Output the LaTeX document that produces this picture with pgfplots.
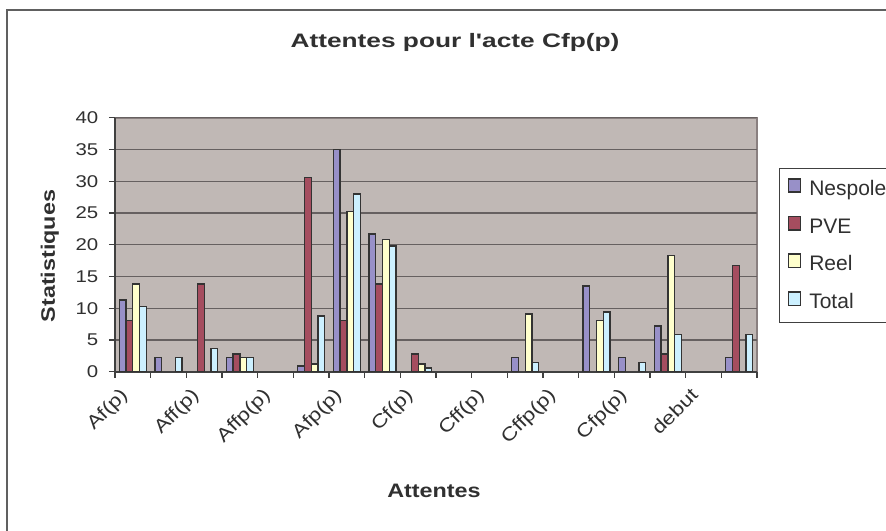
\documentclass[border=0pt]{standalone}
\usepackage{fontspec}
\setmainfont{Liberation Sans}
\newfontfamily\tickfont[FakeStretch=1.2]{Liberation Sans}
\newfontfamily\labfont[FakeStretch=1.2]{Liberation Sans}
\newfontfamily\titfont[FakeStretch=1.35]{Liberation Sans}
\usepackage{pgfplots}
\pgfplotsset{compat=1.18}
\definecolor{plotbg}{HTML}{C0B8B5}
\definecolor{borderc}{HTML}{8A8080}
\definecolor{gridc}{HTML}{666060}
\definecolor{axc}{HTML}{404040}
\definecolor{textc}{HTML}{303030}
\definecolor{cNes}{HTML}{9890C8}
\definecolor{cPVE}{HTML}{A54D5F}
\definecolor{cReel}{HTML}{FFFFCC}
\definecolor{cTot}{HTML}{CCF0FF}
\definecolor{barline}{HTML}{333333}
\begin{document}
\begin{tikzpicture}
\useasboundingbox (0,0) rectangle (664.5pt,-398.25pt);
\clip (0,0) rectangle (664.5pt,-398.25pt);
\fill[white] (0,0) rectangle (664.5pt,-398.25pt);
% chart area border (extends beyond the crop)
\draw[color=gray!75!black, line width=1.5pt] (5.25pt,-7.5pt) rectangle (700pt,-420pt);
\begin{axis}[
  scale only axis,
  width=481.5pt, height=190.5pt,
  at={(86.25pt,-278.8pt)}, anchor=south west,
  axis background/.style={fill=plotbg, draw=borderc, line width=1.5pt},
  axis lines*=left,
  x axis line style={-, draw=axc, line width=1.2pt},
  y axis line style={-, draw=axc, line width=1.2pt},
  xmin=0.5, xmax=18.5, ymin=0, ymax=40,
  ytick={0,5,...,40},
  xtick={0.5,1.5,...,18.5},
  xticklabels={},
  extra x ticks={1,3,5,7,9,11,13,15,17},
  extra x tick labels={Af(p),Aff(p),Affp(p),Afp(p),Cf(p),Cff(p),Cffp(p),Cfp(p),debut},
  extra x tick style={major tick length=0pt, grid=none,
    xticklabel style={xshift=-10.5pt, yshift=-6.25pt, rotate=45, anchor=north east,
      font=\tickfont\fontsize{14}{16}\selectfont}},
  tick align=outside,
  major tick length=4.5pt,
  tick style={draw=axc, line width=1pt},
  ymajorgrids,
  major grid style={draw=gridc, line width=1pt},
  /pgf/number format/assume math mode=true,
  tick label style={font=\tickfont\fontsize{12.75}{15}\selectfont, text=textc},
  yticklabel style={anchor=east, xshift=-4.5pt},
  ybar=0pt, bar width=5.06pt,
  legend style={at={(1.0343,0.802)}, anchor=north west,
    draw=axc, line width=1pt, fill=white,
    font=\fontsize{15.75}{18}\selectfont, text=textc,
    inner xsep=6pt, inner ysep=7pt,
    row sep=11.8pt,
    nodes={inner sep=0pt, text height=11.5pt, text depth=3.5pt}},
  legend cell align=left,
  legend image code/.code={\draw[#1, line width=1.2pt] (0pt,-1.6pt) rectangle (9pt,8.4pt);},
]
\addplot[fill=cNes, draw=barline, line width=1pt] coordinates {
 (1,11.3) (2,2.2) (4,2.2) (6,0.9) (7,35) (8,21.7) (12,2.2) (14,13.5) (15,2.2) (16,7.2) (18,2.2)};
\addlegendentry{\hspace*{6pt}\makebox[70pt][l]{Nespole}}
\addplot[fill=cPVE, draw=barline, line width=1pt] coordinates {
 (1,8.1) (3,13.8) (4,2.8) (6,30.6) (7,8.1) (8,13.8) (9,2.8) (16,2.8) (18,16.7)};
\addlegendentry{\hspace*{6pt}\makebox[70pt][l]{PVE}}
\addplot[fill=cReel, draw=barline, line width=1pt] coordinates {
 (1,13.8) (4,2.2) (6,1.2) (7,25.2) (8,20.8) (9,1.2) (12,9.1) (14,8.1) (16,18.3)};
\addlegendentry{\hspace*{6pt}\makebox[70pt][l]{Reel}}
\addplot[fill=cTot, draw=barline, line width=1pt] coordinates {
 (1,10.3) (2,2.2) (3,3.7) (4,2.2) (6,8.8) (7,28) (8,19.8) (9,0.6) (12,1.5) (14,9.4) (15,1.5) (16,5.9) (18,5.9)};
\addlegendentry{\hspace*{6pt}\makebox[70pt][l]{Total}}
\end{axis}
\node[anchor=base, text=textc, font=\titfont\bfseries\fontsize{14.6}{17}\selectfont] at (341.25pt,-35.5pt) {Attentes pour l'acte Cfp(p)};
\node[anchor=base, text=textc, font=\labfont\bfseries\fontsize{14.6}{17}\selectfont] at (325.5pt,-373pt) {Attentes};
\node[anchor=base, rotate=90, text=textc, font=\labfont\bfseries\fontsize{14.6}{17}\selectfont] at (41.25pt,-192pt) {Statistiques};
\end{tikzpicture}
\end{document}
